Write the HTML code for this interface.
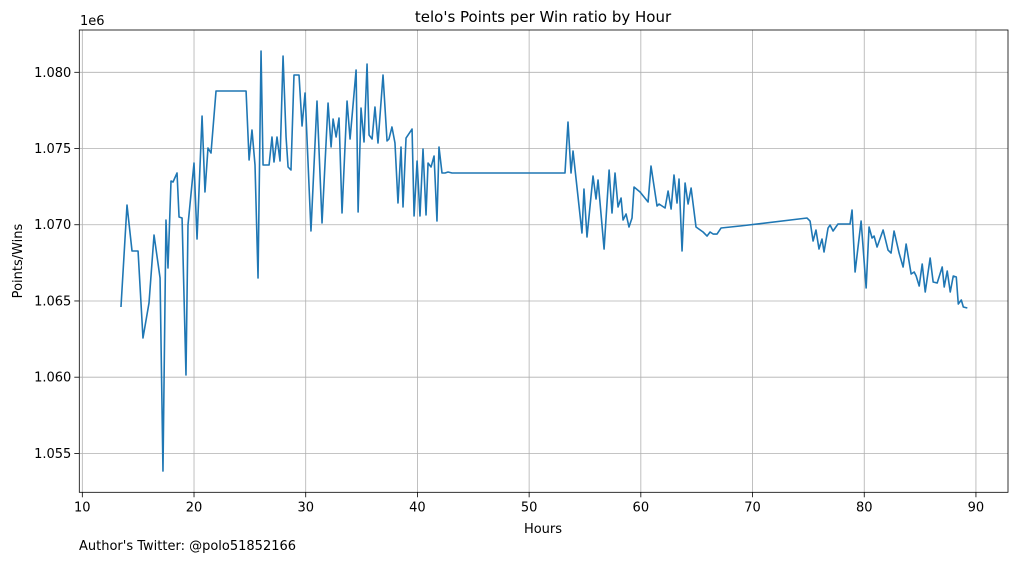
<!DOCTYPE html>
<html><head><meta charset="utf-8"><style>
body{margin:0;background:#fff;}
svg{display:block;font-family:"DejaVu Sans","Liberation Sans",sans-serif;}
</style></head><body>
<svg id="chart" width="1019" height="562" viewBox="0 0 1019 562">
<rect x="0" y="0" width="1019" height="562" fill="#fff"/>
<g id="grid"></g>
<g id="series"></g>
<g id="axes"></g>
<text x="543" y="22" text-anchor="middle" font-size="15" fill="#000">telo's Points per Win ratio by Hour</text>
<text x="80" y="25" font-size="13" fill="#000">1e6</text>
<text x="543" y="533" text-anchor="middle" font-size="13" fill="#000">Hours</text>
<text transform="translate(22,261) rotate(-90)" text-anchor="middle" font-size="13" fill="#000">Points/Wins</text>
<text x="79" y="550" font-size="13" fill="#000">Author's Twitter: @polo51852166</text>
</svg>
<script>
const hours=[13.46,14.00,14.45,14.99,15.43,15.97,16.42,16.96,17.22,17.49,17.67,17.94,18.12,18.48,18.66,18.93,19.28,19.46,20.00,20.27,20.72,20.98,21.25,21.52,21.97,24.66,24.93,25.19,25.46,25.73,26.00,26.18,26.72,26.98,27.16,27.43,27.70,27.97,28.24,28.42,28.68,28.95,29.40,29.67,29.94,30.47,31.01,31.46,32.00,32.27,32.45,32.72,32.98,33.25,33.70,33.97,34.51,34.69,34.95,35.22,35.49,35.67,35.94,36.20,36.47,36.92,37.28,37.45,37.72,37.99,38.26,38.53,38.71,38.98,39.52,39.70,39.97,40.23,40.50,40.77,40.95,41.22,41.49,41.75,41.93,42.20,42.47,42.74,43.10,53.21,53.48,53.75,53.93,54.73,54.91,55.18,55.72,55.99,56.17,56.71,57.16,57.42,57.69,57.96,58.23,58.41,58.68,58.94,59.21,59.39,59.93,60.65,60.91,61.45,61.63,62.17,62.44,62.71,62.97,63.24,63.42,63.69,63.96,64.23,64.50,64.94,65.57,65.93,66.20,66.47,66.82,67.18,68.88,74.88,75.15,75.42,75.68,75.95,76.22,76.40,76.76,76.94,77.21,77.65,78.73,78.91,79.18,79.72,80.17,80.43,80.70,80.88,81.15,81.69,82.13,82.40,82.67,83.12,83.48,83.75,84.20,84.47,84.65,84.92,85.19,85.46,85.90,86.17,86.53,86.98,87.16,87.43,87.70,87.97,88.24,88.42,88.69,88.87,89.23];
const ratios=[1064604,1071295,1068277,1068277,1062570,1064866,1069327,1066506,1053845,1070311,1067162,1072869,1072804,1073394,1070508,1070442,1060143,1069983,1074050,1069064,1077133,1072148,1075034,1074706,1078773,1078773,1074247,1076215,1073919,1066506,1081397,1073919,1073919,1075756,1074116,1075756,1074181,1081069,1075756,1073788,1073591,1079823,1079823,1076477,1078642,1069589,1078117,1070114,1077986,1075100,1076936,1075756,1077002,1070770,1078117,1075624,1080151,1070836,1077658,1075428,1080544,1075887,1075624,1077724,1075362,1079823,1075493,1075624,1076412,1075362,1071426,1075100,1071164,1075690,1076280,1070573,1074181,1070573,1074968,1070639,1074050,1073788,1074509,1070245,1075100,1073394,1073394,1073460,1073394,1073394,1076740,1073394,1074837,1069458,1072344,1069196,1073197,1071688,1072935,1068408,1073591,1070770,1073394,1071164,1071754,1070311,1070704,1069852,1070442,1072476,1072148,1071492,1073853,1071229,1071360,1071098,1072213,1071032,1073263,1071426,1073000,1068277,1072738,1071360,1072410,1069852,1069524,1069261,1069524,1069392,1069392,1069786,1069917,1070442,1070245,1068933,1069655,1068408,1069064,1068212,1069786,1069983,1069589,1070048,1070048,1070967,1066900,1070245,1065850,1069852,1069130,1069261,1068540,1069655,1068343,1068146,1069589,1068146,1067228,1068736,1066768,1066900,1066637,1065981,1067424,1065588,1067818,1066244,1066178,1067228,1065916,1066965,1065588,1066637,1066572,1064800,1065063,1064604,1064538];
const xTicks=[10,20,30,40,50,60,70,80,90];
const yTicks=[1055000,1060000,1065000,1070000,1075000,1080000];
const yTickLabels=["1.055","1.060","1.065","1.070","1.075","1.080"];

const L=79.3,R=1008,T=30,B=492.3;
const X0=9.73,X1=92.87,Y0=1052449,Y1=1082775;
const sx=v=>L+(v-X0)/(X1-X0)*(R-L);
const sy=v=>B-(v-Y0)/(Y1-Y0)*(B-T);
const NS="http://www.w3.org/2000/svg";
const grid=document.getElementById('grid'),axes=document.getElementById('axes'),series=document.getElementById('series');
function mk(tag,attrs,parent){const e=document.createElementNS(NS,tag);for(const k in attrs)e.setAttribute(k,attrs[k]);parent.appendChild(e);return e;}
xTicks.forEach(t=>{
  const x=sx(t);
  const g=mk('line',{x1:x,x2:x,y1:T,y2:B,stroke:'#b0b0b0','stroke-width':0.8},grid);
  
  
  const tk=mk('line',{x1:x,x2:x,y1:B,y2:B+5,stroke:'#000','stroke-width':0.8},axes);
  
  
  const tx=mk('text',{x:x,y:B+19,'text-anchor':'middle','font-size':13,fill:'#000'},axes);
  tx.textContent=t;
  
  
});
yTicks.forEach((t,i)=>{
  const y=sy(t);
  const g=mk('line',{x1:L,x2:R,y1:y,y2:y,stroke:'#b0b0b0','stroke-width':0.8},grid);
  
  
  const tk=mk('line',{x1:L-5,x2:L,y1:y,y2:y,stroke:'#000','stroke-width':0.8},axes);
  
  
  const tx=mk('text',{x:L-8,y:y+4.5,'text-anchor':'end','font-size':13,fill:'#000'},axes);
  tx.textContent=yTickLabels[i];
  
  
});
const fr=mk('rect',{x:L,y:T,width:R-L,height:B-T,fill:'none',stroke:'#000','stroke-width':0.8},axes);


const d=hours.map((h,i)=>(i?'L':'M')+sx(h).toFixed(2)+','+sy(ratios[i]).toFixed(2)).join(' ');
const p=mk('path',{d:d,fill:'none',stroke:'#1f77b4','stroke-width':1.6,'stroke-linejoin':'round'},series);


</script>
</body></html>
